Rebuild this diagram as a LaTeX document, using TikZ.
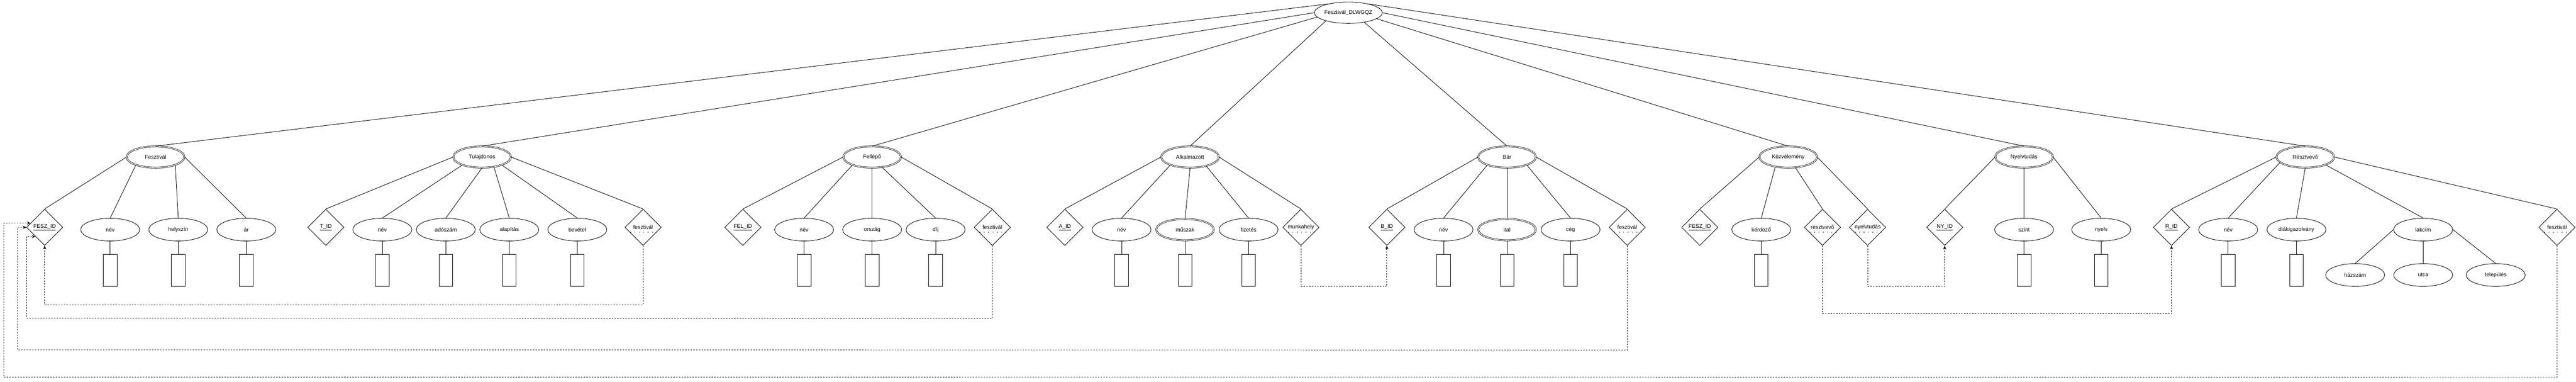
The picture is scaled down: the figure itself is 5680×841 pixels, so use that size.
\documentclass[tikz,border=0pt]{standalone}
\usepackage{fontspec}
\setmainfont{Liberation Sans}
\usetikzlibrary{shapes.geometric,arrows.meta,calc}
\tikzset{
  rootn/.style={ellipse, draw, line width=1pt, minimum width=130pt, minimum height=47pt, inner sep=0pt},
  ent/.style={ellipse, draw, line width=0.9pt, double, double distance=1.6pt, minimum width=127pt, minimum height=47pt, inner sep=0pt},
  attr/.style={ellipse, draw, line width=1pt, minimum width=130pt, minimum height=50pt, inner sep=0pt},
  mattr/.style={ellipse, draw, line width=0.9pt, double, double distance=1.6pt, minimum width=127pt, minimum height=47pt, inner sep=0pt},
  keyd/.style={diamond, draw, line width=1pt, minimum width=80pt, minimum height=80pt, inner sep=0pt},
  dom/.style={draw, line width=1pt, minimum width=30pt, minimum height=70pt, inner sep=0pt},
  link/.style={line width=1pt},
  dep/.style={line width=1pt, dash pattern=on 3pt off 3pt, -{Stealth[length=8pt,width=7pt]}},
  wk/.style={line width=1.6pt, dash pattern=on 1.6pt off 8pt}
}
\begin{document}
\begin{tikzpicture}[x=1pt, y=-1pt, font=\fontsize{12pt}{14pt}\selectfont]
\useasboundingbox (0,0) rectangle (5680,841);
\fill[white] (0,0) rectangle (5680,841);

% root
\node[rootn] (R) at (2973,28) {Fesztivál\_DLWGQZ};

% entities
\node[ent] (E1) at (343,346) {Fesztivál};
\node[ent] (E2) at (1063,346) {Tulajdonos};
\node[ent] (E3) at (1923,346) {Fellépő};
\node[ent] (E4) at (2624,346) {Alkalmazott};
\node[ent] (E5) at (3323,346) {Bár};
\node[ent] (E6) at (3943,346) {Közvélemény};
\node[ent] (E7) at (4463,346) {Nyelvtudás};
\node[ent] (E8) at (5083,346) {Résztvevő};

\draw[link] (R.156) -- (E1.north);
\draw[link] (R.180) -- (E2.north);
\draw[link] (R.188) -- (E3.north);
\draw[link] (R.200) -- (E4.north);
\draw[link] (R.329) -- (E5.north);
\draw[link] (R.348) -- (E6.north);
\draw[link] (R.0) -- (E7.north);
\draw[link] (R.24) -- (E8.north);

% Fesztival
\node[keyd] (K1) at (98.5,501) {\underline{FESZ\_ID}};
\node[attr] (a11) at (243,506) {név};
\node[attr] (a12) at (393,506) {helyszín};
\node[attr] (a13) at (543,506) {ár};
\draw[link] (E1.west) -- (K1.north);
\draw[link] (E1.202) -- (a11.north);
\draw[link] (E1.338) -- (a12.north);
\draw[link] (E1.east) -- (a13.north);

% Tulajdonos
\node[keyd] (K2) at (718.5,501) {\underline{T\_ID}};
\node[attr] (a21) at (843,506) {név};
\node[attr] (a22) at (983,506) {adószám};
\node[attr] (a23) at (1123,506) {alapítás};
\node[attr] (a24) at (1273,506) {bevétel};
\node[keyd] (W2) at (1418,501) {fesztivál};
\draw[link] (E2.west) -- (K2.north);
\draw[link] (E2.202) -- (a21.north);
\draw[link] (E2.south) -- (a22.north);
\draw[link] (E2.320) -- (a23.north);
\draw[link] (E2.338) -- (a24.north);
\draw[link] (E2.east) -- (W2.north);

% Fellepo
\node[keyd] (K3) at (1638,501) {\underline{FEL\_ID}};
\node[attr] (a31) at (1773,506) {név};
\node[attr] (a32) at (1923,506) {ország};
\node[attr] (a33) at (2063,506) {díj};
\node[keyd] (W3) at (2188,501) {fesztivál};
\draw[link] (E3.west) -- (K3.north);
\draw[link] (E3.202) -- (a31.north);
\draw[link] (E3.south) -- (a32.north);
\draw[link] (E3.314) -- (a33.north);
\draw[link] (E3.east) -- (W3.north);

% Alkalmazott
\node[keyd] (K4) at (2348,501) {\underline{A\_ID}};
\node[attr] (a41) at (2473,506) {név};
\node[mattr] (a42) at (2613,506) {műszak};
\node[attr] (a43) at (2753,506) {fizetés};
\node[keyd] (W4) at (2868.5,501) {munkahely};
\draw[link] (E4.west) -- (K4.north);
\draw[link] (E4.202) -- (a41.north);
\draw[link] (E4.south) -- (a42.north);
\draw[link] (E4.331) -- (a43.north);
\draw[link] (E4.east) -- (W4.north);

% Bar
\node[keyd] (K5) at (3058,501) {\underline{B\_ID}};
\node[attr] (a51) at (3183,506) {név};
\node[mattr] (a52) at (3323,506) {ital};
\node[attr] (a53) at (3463,506) {cég};
\node[keyd] (W5) at (3588,501) {fesztivál};
\draw[link] (E5.west) -- (K5.north);
\draw[link] (E5.202) -- (a51.north);
\draw[link] (E5.south) -- (a52.north);
\draw[link] (E5.338) -- (a53.north);
\draw[link] (E5.east) -- (W5.north);

% Kozvelemeny
\node[keyd] (K6) at (3748,501) {\underline{FESZ\_ID}};
\node[attr] (a61) at (3883.5,506) {kérdező};
\node[keyd] (W6a) at (4018.5,501) {résztvevő};
\node[keyd] (W6b) at (4118,501) {nyelvtudás};
\draw[link] (E6.west) -- (K6.north);
\draw[link] (E6.217) -- (a61.north);
\draw[link] (E6.304) -- (W6a.north);
\draw[link] (E6.east) -- (W6b.north);

% Nyelvtudas
\node[keyd] (K7) at (4288,501) {\underline{NY\_ID}};
\node[attr] (a71) at (4463,506) {szint};
\node[attr] (a72) at (4633,506) {nyelv};
\draw[link] (E7.west) -- (K7.north);
\draw[link] (E7.south) -- (a71.north);
\draw[link] (E7.east) -- (a72.north);

% Resztvevo
\node[keyd] (K8) at (4788,501) {\underline{R\_ID}};
\node[attr] (a81) at (4913,506) {név};
\node[attr] (a82) at (5063.5,506) {diákigazolvány};
\node[attr] (a83) at (5343,506) {lakcím};
\node[keyd] (W8) at (5638,501) {fesztivál};
\draw[link] (E8.west) -- (K8.north);
\draw[link] (E8.192) -- (a81.north);
\draw[link] (E8.south) -- (a82.north);
\draw[link] (E8.339) -- (a83.north);
\draw[link] (E8.east) -- (W8.north);

\node[attr] (s1) at (5193,606) {házszám};
\node[attr] (s2) at (5343,606) {utca};
\node[attr] (s3) at (5503,606) {település};
\draw[link] (a83.west) -- (s1.north);
\draw[link] (a83.south) -- (s2.north);
\draw[link] (a83.east) -- (s3.north);

% domain boxes
\foreach \a in {a11,a12,a13,a21,a22,a23,a24,a31,a32,a33,a41,a42,a43,a51,a52,a53,a61,a71,a72,a81,a82}{
  \node[dom] (r\a) at ($(\a.center)+(0,90)$) {};
  \draw[link] (\a.south) -- (r\a.north);
}

% weak-key dotted underlines
\foreach \w in {W2,W3,W4,W5,W6a,W6b,W8}{
  \draw[wk] ($(\w.center)+(-28,11)$) -- ($(\w.center)+(30,11)$);
}

% dependency connectors
\draw[dep] (W2.south) -- ++(0,130) -| (K1.south);
\draw[dep] (W3.south) -- ++(0,160) -- (58.7,701) -- (58.7,521) -- (K1.225);
\draw[dep] (W5.south) -- ++(0,230) -- (38.7,771) -- (38.7,501) -- (K1.west);
\draw[dep] (W8.south) -- ++(0,290) -- (8.3,831) -- (8.3,491.7) -- (K1.163);
\draw[dep] (W4.south) -- ++(0,90) -| (K5.south);
\draw[dep] (W6b.south) -- ++(0,90) -| (K7.south);
\draw[dep] (W6a.south) -- ++(0,150) -| (K8.south);
\end{tikzpicture}
\end{document}
